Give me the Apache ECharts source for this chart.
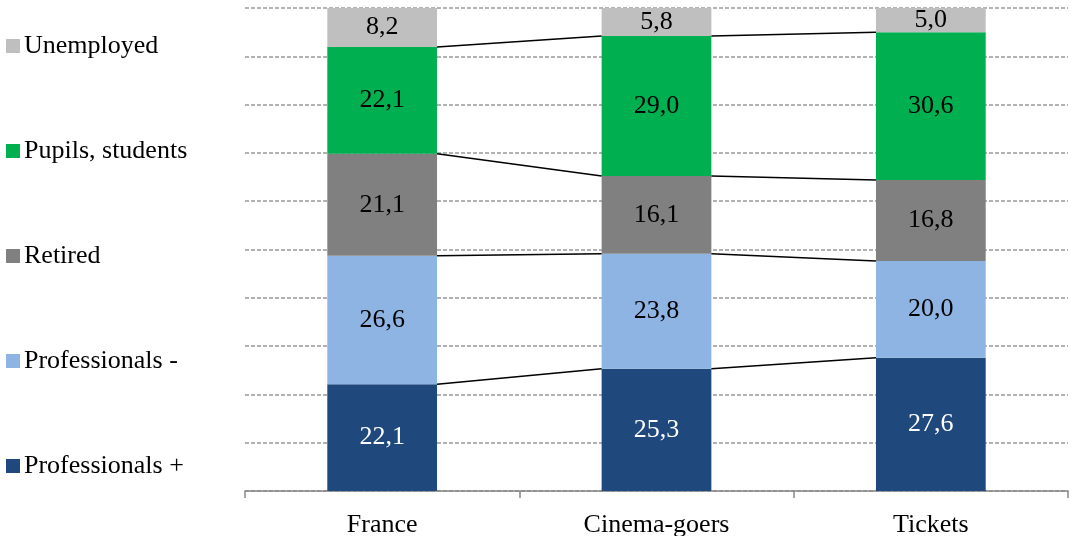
<!DOCTYPE html>
<html>
<head>
<meta charset="utf-8">
<script src="https://cdn.jsdelivr.net/npm/echarts@6/dist/echarts.min.js"></script>
<style>
  html, body { margin: 0; padding: 0; background: #fff; }
  #chart { width: 1073px; height: 536px; }
</style>
</head>
<body>
<div id="chart"></div>
<script>
// categories and series (bottom to top)
const categories = ['France', 'Cinema-goers', 'Tickets'];
const profPlus = [22.1, 25.3, 27.6];
const profMinus = [26.6, 23.8, 20.0];
const retired = [21.1, 16.1, 16.8];
const pupils = [22.1, 29.0, 30.6];
const unemployed = [8.2, 5.8, 5.0];

const seriesNames = ['Professionals +', 'Professionals -', 'Retired', 'Pupils, students', 'Unemployed'];
const seriesValues = [profPlus, profMinus, retired, pupils, unemployed];
const seriesColors = ['#1F497D', '#8EB4E3', '#808080', '#00B050', '#BFBFBF'];
const labelColors = ['#fff', '#000', '#000', '#000', '#000'];

const FONT = '"Liberation Serif", "Times New Roman", serif';
const BAR_RATIO = 0.4;

// cumulative tops for the connector lines
const cumul = [];
let running = categories.map(() => 0);
seriesValues.forEach(vals => {
    running = running.map((r, i) => r + vals[i]);
    cumul.push(running.slice());
});

const barSeries = seriesValues.map((vals, k) => ({
    name: seriesNames[k],
    type: 'bar',
    stack: 'total',
    barWidth: '40%',
    itemStyle: { color: seriesColors[k] },
    label: {
        show: true,
        position: 'inside',
        color: labelColors[k],
        fontFamily: FONT,
        fontSize: 26,
        formatter: p => p.value.toFixed(1).replace('.', ',')
    },
    emphasis: { disabled: true },
    data: vals
}));

// connector lines between bars (top of the first four segments)
const lineSeries = cumul.slice(0, 4).map((tops, k) => ({
    type: 'custom',
    silent: true,
    z: 5,
    renderItem: (params, api) => {
        const i = api.value(0);
        const a = api.coord([i, api.value(1)]);
        const b = api.coord([i + 1, api.value(2)]);
        const hw = api.size([1, 0])[0] * BAR_RATIO / 2;
        return {
            type: 'line',
            shape: { x1: a[0] + hw, y1: a[1], x2: b[0] - hw, y2: b[1] },
            style: { stroke: '#000', lineWidth: 1.5 }
        };
    },
    data: tops.slice(0, -1).map((t, i) => [i, t, tops[i + 1]])
}));

const chart = echarts.init(document.getElementById('chart'));
chart.setOption({
    animation: false,
    textStyle: { fontFamily: FONT },
    legend: {
        orient: 'vertical',
        left: 6,
        top: 33,
        padding: 0,
        itemWidth: 14,
        itemHeight: 14,
        itemGap: 79,
        icon: 'rect',
        selectedMode: false,
        data: seriesNames.slice().reverse(),
        textStyle: { fontFamily: FONT, fontSize: 26, color: '#000', lineHeight: 26, padding: [0, 0, 0, -1] }
    },
    grid: { left: 245, right: 5, top: 8, bottom: 45, containLabel: false, outerBoundsMode: 'none' },
    xAxis: {
        type: 'category',
        data: categories,
        axisLine: { lineStyle: { color: '#888', width: 1.5 } },
        axisTick: { show: true, length: 7, lineStyle: { color: '#888', width: 1.5 } },
        axisLabel: { color: '#000', fontFamily: FONT, fontSize: 26, margin: 21 }
    },
    yAxis: {
        type: 'value',
        min: 0,
        max: 100,
        interval: 10,
        axisLine: { show: false },
        axisTick: { show: false },
        axisLabel: { show: false },
        splitLine: { lineStyle: { color: '#999', type: [4, 2], width: 1.5 } }
    },
    series: [...barSeries, ...lineSeries]
});
</script>
</body>
</html>
